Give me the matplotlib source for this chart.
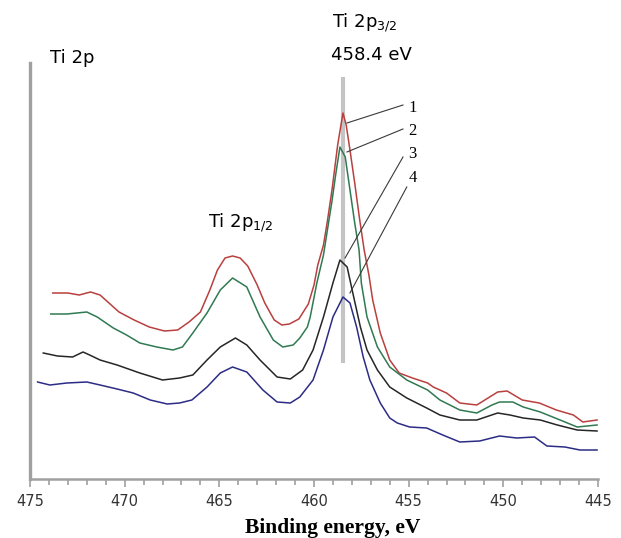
import numpy as np
import matplotlib
matplotlib.use("Agg")
import matplotlib.pyplot as plt
from matplotlib.ticker import MultipleLocator

# Ti 2p XPS spectra, intensity in arbitrary units
e1 = [473.8, 473.0, 472.4, 471.8, 471.3, 470.3, 469.5, 468.7, 467.9, 467.2, 466.6, 466.0,
      465.5, 465.1, 464.7, 464.3, 463.9, 463.5, 463.0, 462.6, 462.1, 461.7, 461.3, 460.8,
      460.3, 460.0, 459.8, 459.5, 459.3, 459.05, 458.75, 458.47, 458.3, 458.1, 457.85,
      457.6, 457.35, 457.1, 456.9, 456.5, 456.0, 455.5, 454.8, 454.0, 453.7, 453.0, 452.3,
      451.4, 450.3, 449.8, 449.0, 448.1, 447.2, 446.3, 445.8, 445.05]
i1 = [186, 186, 184, 187, 184, 167, 159, 152, 148, 149, 157, 167,
      189, 209, 221, 223, 221, 213, 194, 176, 159, 154, 155, 160,
      175, 194, 214, 234, 257, 289, 334, 366, 354, 329, 296,
      261, 229, 204, 179, 146, 119, 106, 101, 96, 92, 86, 76,
      74, 87, 88, 79, 76, 69, 64, 57, 59]

e2 = [473.9, 473.05, 472.0, 471.45, 470.6, 469.9, 469.2, 468.3, 467.45, 466.95, 466.4,
      465.65, 464.95, 464.3, 463.55, 462.85, 462.15, 461.65, 461.1, 460.75, 460.35, 460.2,
      459.85, 459.5, 459.05, 458.85, 458.63, 458.35, 458.1, 457.85, 457.62, 457.5, 457.2,
      456.65, 456.0, 455.1, 454.0, 453.35, 452.3, 451.4, 450.6, 450.2, 449.5, 448.95,
      448.05, 447.0, 446.1, 445.05]
i2 = [165, 165, 167, 162, 151, 144, 136, 132, 129, 132, 146,
      166, 189, 201, 192, 162, 139, 132, 134, 141, 152, 162,
      196, 224, 278, 305, 332, 322, 289, 256, 229, 196, 162,
      132, 112, 99, 89, 79, 69, 66, 74, 77, 77, 72,
      67, 59, 52, 54]

e3 = [474.3, 473.55, 472.75, 472.2, 471.85, 471.3, 470.4, 469.2, 468.0, 467.1, 466.4,
      465.65, 464.95, 464.15, 463.55, 462.85, 461.95, 461.25, 460.6, 460.05, 459.5, 459.0,
      458.63, 458.25, 457.95, 457.55, 457.2, 456.65, 456.0, 455.1, 454.05, 453.35, 452.3,
      451.4, 450.3, 449.65, 448.95, 448.05, 447.15, 446.1, 445.05]
i3 = [126, 123, 122, 127, 124, 119, 114, 106, 99, 101, 104,
      119, 132, 141, 134, 119, 102, 100, 109, 129, 162, 196,
      219, 212, 186, 152, 129, 109, 92, 81, 71, 64, 59,
      59, 66, 64, 61, 59, 54, 49, 48]

e4 = [474.6, 473.95, 473.05, 472.0, 471.3, 470.4, 469.55, 468.65, 467.75, 467.1, 466.45,
      465.65, 464.95, 464.3, 463.55, 462.7, 461.95, 461.25, 460.75, 460.05, 459.5, 459.0,
      458.47, 458.1, 457.75, 457.4, 457.05, 456.5, 456.0, 455.6, 454.95, 454.05, 453.2,
      452.3, 451.25, 450.2, 449.3, 448.35, 447.7, 446.75, 445.95, 445.05]
i4 = [97, 94, 96, 97, 94, 90, 86, 79, 75, 76, 79,
      92, 106, 112, 107, 89, 77, 76, 82, 99, 129, 162,
      182, 176, 152, 122, 99, 76, 61, 56, 52, 51, 44,
      37, 38, 43, 41, 42, 33, 32, 29, 29]

energies = [e1, e2, e3, e4]
intensities = [i1, i2, i3, i4]
colors = ["#b8403f", "#2f7a52", "#262626", "#2c2c86"]
labels = ["1", "2", "3", "4"]

peak_pos = 458.45
# leader lines: start on curve, end near label
lead_start = [(458.26, 356), (458.26, 327), (458.36, 221), (458.10, 186)]
lead_end = [(455.3, 374), (455.3, 350), (455.3, 322), (455.1, 292)]
label_pos = [(454.8, 371), (454.8, 348), (454.8, 325), (454.8, 301)]

fig = plt.figure(figsize=(6.21, 5.38), dpi=100)
ax = fig.add_axes([30 / 621, 59 / 538, 568 / 621, 416 / 538])

# reference line at Ti 2p3/2 peak
ax.plot([peak_pos, peak_pos], [116, 402], color="#c4c4c4", lw=3.0, solid_capstyle="butt",
        zorder=1)

for e, i, c in zip(energies, intensities, colors):
    ax.plot(e, i, color=c, lw=1.1, solid_joinstyle="round", zorder=2)

for s, t, p, lab in zip(lead_start, lead_end, label_pos, labels):
    ax.plot([s[0], t[0]], [s[1], t[1]], color="#3a3a3a", lw=0.8, zorder=3)
    ax.text(p[0], p[1], lab, family="Liberation Serif", fontsize=12,
            ha="center", va="center", zorder=3)

ax.set_xlim(475, 445)
ax.set_ylim(0, 416)

ax.text(473.94, 416, "Ti 2p", fontsize=13, ha="left", va="baseline", clip_on=False)
ax.text(465.6, 251, r"Ti 2p$_{\mathregular{1/2}}$", fontsize=13, ha="left",
        va="baseline")
ax.text(459.05, 452, r"Ti 2p$_{\mathregular{3/2}}$", fontsize=13, ha="left",
        va="baseline", clip_on=False)
ax.text(456.99, 419, "458.4 eV", fontsize=13, ha="center", va="baseline",
        clip_on=False)

for side in ["top", "right"]:
    ax.spines[side].set_visible(False)
ax.spines["left"].set_color("#a0a0a0")
ax.spines["left"].set_linewidth(2.4)
ax.spines["bottom"].set_color("#a0a0a0")
ax.spines["bottom"].set_linewidth(1.8)

ax.set_yticks([])
ax.xaxis.set_major_locator(MultipleLocator(5))
ax.xaxis.set_minor_locator(MultipleLocator(1))
ax.tick_params(axis="x", which="major", direction="out", length=6, width=1.2,
               color="#a0a0a0", labelsize=10.5, labelcolor="#333333", pad=5)
ax.tick_params(axis="x", which="minor", direction="out", length=4.5, width=1.2,
               color="#a0a0a0")

fig.text(333 / 621, 1 - 528 / 538, "Binding energy, eV", family="Liberation Serif",
         fontweight="bold", fontsize=15.5, ha="center", va="center")

fig.savefig("out.png", dpi=100)
